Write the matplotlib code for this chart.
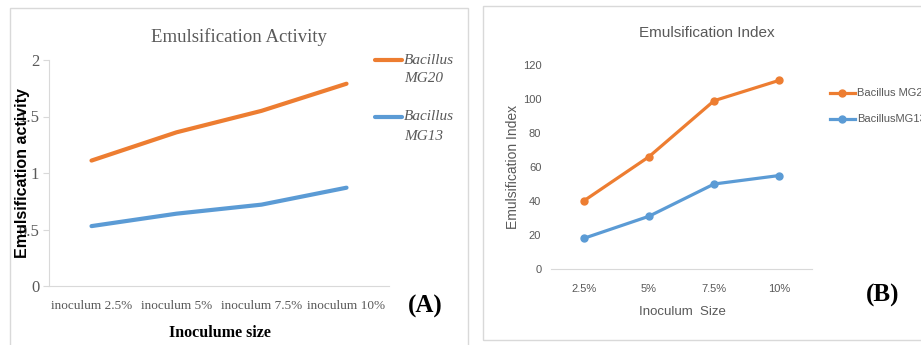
import matplotlib.pyplot as plt
from matplotlib.lines import Line2D
from matplotlib.patches import Rectangle

W, H = 921, 345

# panel A
sizes_a = ['inoculum 2.5%', 'inoculum 5%', 'inoculum 7.5%', 'inoculum 10%']
activity_mg20 = [1.11, 1.36, 1.55, 1.79]
activity_mg13 = [0.53, 0.64, 0.72, 0.87]
ticks_a = [0, 0.5, 1, 1.5, 2]

# panel B
sizes_b = ['2.5%', '5%', '7.5%', '10%']
index_mg20 = [40, 66, 99, 111]
index_mg13 = [18, 31, 50, 55]
ticks_b = [0, 20, 40, 60, 80, 100, 120]

ORANGE = '#ED7D31'
BLUE = '#5B9BD5'
GRAY = '#595959'
LIGHT = '#D9D9D9'
SERIF = 'Liberation Serif'
SANS = 'Liberation Sans'


def fx(x):
    return x / W


def fy(y):
    return 1 - y / H


def ftext(x, y, s, **kw):
    fig.text(fx(x), fy(y), s, **kw)


fig = plt.figure(figsize=(W / 100, H / 100), dpi=100)

# panel frames
fig.patches.append(Rectangle((fx(10), fy(360)), fx(458), fy(8) - fy(360),
                             transform=fig.transFigure, fill=False, ec=LIGHT, lw=1))
fig.patches.append(Rectangle((fx(483), fy(340)), fx(460), fy(6) - fy(340),
                             transform=fig.transFigure, fill=False, ec=LIGHT, lw=1))

# ---- (A) Emulsification Activity ----
ax = fig.add_axes([fx(49), fy(286), fx(340), fy(60) - fy(286)])
x = range(len(sizes_a))
ax.plot(x, activity_mg20, color=ORANGE, lw=3, solid_capstyle='round')
ax.plot(x, activity_mg13, color=BLUE, lw=3, solid_capstyle='round')
ax.set_xlim(-0.5, len(sizes_a) - 0.5)
ax.set_ylim(0, 2)
ax.set_yticks(ticks_a)
ax.set_yticklabels(['0', '0.5', '1', '1.5', '2'], fontfamily=SERIF, fontsize=12, color=GRAY)
ax.set_xticks(list(x))
ax.set_xticklabels(sizes_a, fontfamily=SERIF, fontsize=9.5, color=GRAY)
ax.tick_params(axis='y', length=4, color=LIGHT, pad=3)
ax.tick_params(axis='x', length=0, pad=10)
for s in ['top', 'right']:
    ax.spines[s].set_visible(False)
for s in ['left', 'bottom']:
    ax.spines[s].set_color(LIGHT)

ftext(239, 37, 'Emulsification Activity', fontfamily=SERIF, fontsize=13.5, color=GRAY,
      ha='center', va='center')
ftext(23, 173, 'Emulsification activity', fontfamily=SANS, fontweight='bold', fontsize=11.5,
      rotation=90, ha='center', va='center')
ftext(220, 333, 'Inoculume size', fontfamily=SERIF, fontweight='bold', fontsize=11.5,
      ha='center', va='center')
ftext(425, 306, '(A)', fontfamily=SERIF, fontweight='bold', fontsize=18, ha='center', va='center')

for yy, col, lab in [(60, ORANGE, 'MG20'), (117, BLUE, 'MG13')]:
    fig.add_artist(Line2D([fx(375), fx(402)], [fy(yy), fy(yy)], color=col, lw=3,
                          solid_capstyle='round', transform=fig.transFigure))
    ftext(404, yy, 'Bacillus', fontfamily=SERIF, style='italic', fontsize=11, color=GRAY,
          ha='left', va='center')
    ftext(404, yy + 19, lab, fontfamily=SERIF, style='italic', fontsize=11, color=GRAY,
          ha='left', va='center')

# ---- (B) Emulsification Index ----
bx = fig.add_axes([fx(551), fy(269), fx(261), fy(65) - fy(269)])
xb = range(len(sizes_b))
bx.plot(xb, index_mg20, color=ORANGE, lw=2.3, marker='o', ms=5)
bx.plot(xb, index_mg13, color=BLUE, lw=2.3, marker='o', ms=5)
bx.set_xlim(-0.5, len(sizes_b) - 0.5)
bx.set_ylim(0, 120)
bx.set_yticks(ticks_b)
bx.set_yticklabels([str(t) for t in ticks_b], fontfamily=SANS, fontsize=8, color=GRAY)
bx.set_xticks(list(xb))
bx.set_xticklabels(sizes_b, fontfamily=SANS, fontsize=8, color=GRAY)
bx.tick_params(axis='y', length=0, pad=7)
bx.tick_params(axis='x', length=0, pad=11)
for s in ['top', 'right', 'left']:
    bx.spines[s].set_visible(False)
bx.spines['bottom'].set_color(LIGHT)

ftext(707, 33, 'Emulsification Index', fontfamily=SANS, fontsize=11, color=GRAY,
      ha='center', va='center')
ftext(513, 167, 'Emulsification Index', fontfamily=SANS, fontsize=10, color=GRAY,
      rotation=90, ha='center', va='center')
ftext(682, 312, 'Inoculum  Size', fontfamily=SANS, fontsize=9.5, color=GRAY,
      ha='center', va='center')
ftext(883, 295, '(B)', fontfamily=SERIF, fontweight='bold', fontsize=18, ha='center', va='center')

for yy, col, lab in [(93, ORANGE, 'Bacillus MG20'), (119, BLUE, 'BacillusMG13')]:
    fig.add_artist(Line2D([fx(830), fx(855)], [fy(yy), fy(yy)], color=col, lw=2.3,
                          transform=fig.transFigure))
    fig.add_artist(Line2D([fx(842)], [fy(yy)], color=col, marker='o', ms=5,
                          transform=fig.transFigure))
    ftext(857, yy, lab, fontfamily=SANS, fontsize=8, color=GRAY, ha='left', va='center')

fig.savefig('out.png', dpi=100)
